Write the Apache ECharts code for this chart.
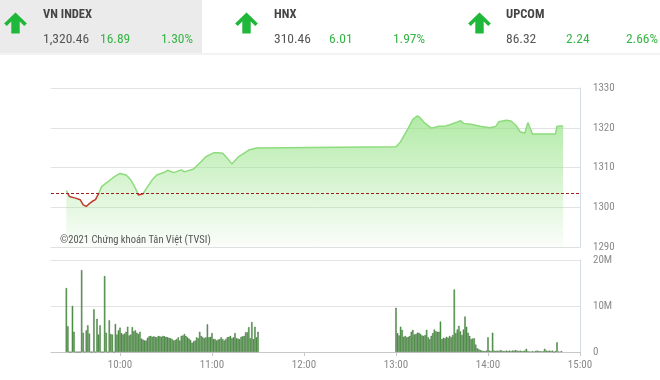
<!DOCTYPE html>
<html>
<head>
<meta charset="utf-8">
<script src="https://cdn.jsdelivr.net/npm/echarts@6/dist/echarts.min.js"></script>
<style>
html,body{margin:0;padding:0;background:#fff;}
#c{width:660px;height:380px;}
</style>
</head>
<body>
<div id="c"></div>
<script>
// ---- header data ----
const indexNames = ['VN INDEX', 'HNX', 'UPCOM'];
const indexValues = ['1,320.46', '310.46', '86.32'];
const indexChanges = ['16.89', '6.01', '2.24'];
const indexPercents = ['1.30%', '1.97%', '2.66%'];

// ---- price series (time, index level) ----
const priceTimes = ['9:25','9:27','9:31','9:34','9:36','9:38','9:40','9:42','9:44','9:46','9:48','9:52','9:55','9:58',
 '10:00','10:04','10:07','10:10','10:12','10:15','10:18','10:21','10:24','10:29','10:31','10:35','10:40','10:42','10:48','10:53','10:56',
 '11:01','11:04','11:07','11:10','11:13','11:17','11:21','11:24','11:29','11:30',
 '13:00','13:01','13:03','13:08','13:11','13:14','13:16','13:19','13:23','13:25','13:28','13:32','13:36','13:39','13:42','13:43','13:44','13:49','13:55',
 '14:01','14:05','14:07','14:12','14:15','14:18','14:21','14:24','14:26','14:27','14:29','14:44','14:45','14:49'];
const priceValues = [1304.2,1302.7,1302.3,1301.9,1300.6,1300.2,1300.9,1301.5,1301.9,1303.4,1305.2,1306.4,1307.3,1308.1,
 1308.5,1308.1,1306.9,1304.8,1303.1,1303.4,1305.2,1306.9,1308.1,1308.8,1309.3,1308.7,1309.4,1308.9,1309.6,1311.5,1312.7,
 1313.7,1313.7,1313.6,1312.3,1310.9,1312.6,1313.6,1314.4,1314.9,1315.0,
 1315.2,1315.3,1316.5,1319.9,1322.1,1323.0,1322.4,1321.1,1319.9,1320.1,1320.4,1320.4,1320.9,1321.3,1321.8,1322.2,1321.1,1320.9,1320.4,
 1320.0,1320.3,1321.5,1321.9,1321.7,1320.7,1319.0,1318.6,1321.3,1321.4,1318.4,1318.4,1320.4,1320.46];
const prevClose = 1303.57;

// ---- volume (millions), one value per minute ----
const morningStart = '9:25';
const morningVolumes = [13.9,5.6,0,0,10.0,4.4,0,0,0,0,17.8,4.2,0,4.7,5.8,4.0,0,0,9.3,0,
 7.2,3.8,5.8,0,0,16.5,4.2,0,6.9,3.9,3.8,0,6.1,3.8,4.7,5.3,4.1,3.8,4.0,4.4,
 5.5,3.6,3.8,5.4,4.5,4.7,4.2,3.9,4.4,2.9,2.7,2.5,2.5,3.1,3.4,3.5,3.3,3.4,3.3,3.2,
 3.5,3.4,3.3,3.5,3.4,3.3,3.2,3.1,3.0,2.8,2.5,2.6,2.8,3.2,2.5,3.5,3.6,3.9,3.5,3.2,
 2.9,2.6,2.0,2.3,2.5,3.2,3.0,4.4,3.5,3.2,3.0,3.2,6.0,3.2,3.3,4.1,2.8,2.8,2.5,2.7,
 2.8,3.2,2.8,2.5,2.8,3.2,3.3,3.5,3.0,3.2,4.1,3.0,2.9,2.8,3.3,3.4,3.5,4.3,4.3,5.4,
 3.0,6.5,2.8,5.5,3.2,4.4];
const afternoonStart = '13:00';
const afternoonVolumes = [9.6,4.1,3.6,5.5,4.8,3.3,3.5,3.2,3.3,3.5,4.4,4.8,3.8,3.9,4.2,4.2,3.9,3.6,3.5,3.7,
 4.8,3.2,2.8,3.5,4.1,4.9,4.5,4.4,4.4,6.6,2.8,3.1,3.0,3.3,3.1,3.5,3.2,3.7,13.6,4.1,
 4.9,5.7,4.5,3.7,4.9,7.7,5.5,4.2,3.5,2.8,2.9,3.0,1.6,0.8,0.6,0.4,0.3,0.2,0.2,0.3,
 3.2,0.3,0.2,4.2,0.3,0.2,0.3,0.2,0.4,0.3,0.2,0.2,0.3,0.2,0.3,0.2,0.3,0.3,0.4,0.3,
 0.2,0.3,0.2,0.2,0.3,0.7,0.2,0.1,0.1,0.2,0.1,0.2,0.3,0.2,0.2,0.1,0.2,0.7,0.3,0.2,
 0.3,0.2,0.3,0,0.2,2.1,0.1,0.1,0.2];

const timeTicks = ['10:00','11:00','12:00','13:00','14:00','15:00'];
const priceTicks = [1290, 1300, 1310, 1320, 1330];
const volumeTicks = [0, 10, 20];

// ---- helpers ----
function toMin(s){ const p = s.split(':'); return (+p[0])*60 + (+p[1]); }
function fmtMin(m){ const h = Math.floor(m/60), mm = m%60; return h+':'+(mm<10?'0':'')+mm; }

const priceData = priceTimes.map((t,i)=>[toMin(t), priceValues[i]]);
const volData = [];
morningVolumes.forEach((v,i)=>volData.push([toMin(morningStart)+i, v]));
afternoonVolumes.forEach((v,i)=>volData.push([toMin(afternoonStart)+i, v]));
const tickMins = timeTicks.map(toMin);

const chart = echarts.init(document.getElementById('c'), null, {renderer:'canvas'});
const cond = "'Roboto Condensed','Liberation Sans Narrow','DejaVu Sans Condensed','Arial Narrow',Roboto,sans-serif";
const GREEN = '#37b447';
const ARROW = '#1fb83b';

function arrow(cx){
  return {
    type:'polygon', silent:true,
    shape:{points:[[cx,12.5],[cx+11.4,23.5],[cx+8.7,26],[cx+4.2,21.5],[cx+4.2,33.5],[cx-4.2,33.5],[cx-4.2,21.5],[cx-8.7,26],[cx-11.4,23.5]]},
    style:{fill:ARROW}
  };
}
const panelX = [43, 274, 506];
const changeX = [100, 329, 566];
const pctRight = [193, 425, 658];
const arrowX = [15.5, 246.5, 479.5];

const graphics = [
  {type:'rect', shape:{x:0,y:0,width:202,height:53}, style:{fill:'#ebebeb'}, silent:true},
  {type:'rect', shape:{x:0,y:53,width:660,height:2}, style:{fill:'#f3f3f3'}, silent:true}
];
indexNames.forEach((n,i)=>{
  graphics.push(arrow(arrowX[i]));
  graphics.push({type:'text', style:{x:panelX[i], y:14.5, text:n, font:"bold 12.5px "+cond, fill:'#444', verticalAlign:'middle'}});
  graphics.push({type:'text', style:{x:panelX[i], y:40, text:indexValues[i], font:"13.5px "+cond, fill:'#555', verticalAlign:'middle'}});
  graphics.push({type:'text', style:{x:changeX[i], y:40, text:indexChanges[i], font:"13.5px "+cond, fill:GREEN, verticalAlign:'middle'}});
  graphics.push({type:'text', style:{x:pctRight[i], y:40, text:indexPercents[i], font:"13.5px "+cond, fill:GREEN, verticalAlign:'middle', align:'right'}});
});
graphics.push({type:'text', z:100, style:{x:60, y:240, text:'©2021 Chứng khoán Tân Việt (TVSI)', font:"10.5px "+cond, fill:'#555', verticalAlign:'middle'}});

const axisLabelStyle = {color:'#8a8a8a', fontSize:11, fontFamily:cond};

chart.setOption({
  animation:false,
  graphic:graphics,
  grid:[
    {left:51, right:80, top:88, height:159},
    {left:51, right:80, top:260, height:92}
  ],
  xAxis:[
    {gridIndex:0, type:'value', min:toMin('9:15'), max:toMin('15:00'),
     axisLabel:{show:false}, axisTick:{show:false}, splitLine:{show:false},
     axisLine:{show:true, lineStyle:{color:'#e0e0e0'}}},
    {gridIndex:1, type:'value', min:toMin('9:15'), max:toMin('15:00'),
     axisLabel:Object.assign({customValues:tickMins, formatter:v=>fmtMin(v), margin:8}, axisLabelStyle),
     axisTick:{show:true, customValues:tickMins, length:4, lineStyle:{color:'#c8c8c8'}},
     splitLine:{show:false},
     axisLine:{show:true, lineStyle:{color:'#c8c8c8'}}}
  ],
  yAxis:[
    {gridIndex:0, type:'value', position:'right', min:priceTicks[0], max:priceTicks[priceTicks.length-1], interval:10,
     axisLabel:Object.assign({margin:13, formatter:v=>String(v)}, axisLabelStyle),
     axisTick:{show:false},
     axisLine:{show:true, lineStyle:{color:'#d3dbe4'}},
     splitLine:{lineStyle:{color:'#e3e3e3'}}},
    {gridIndex:1, type:'value', position:'right', min:volumeTicks[0], max:volumeTicks[volumeTicks.length-1], interval:10,
     axisLabel:Object.assign({margin:13, formatter:v=>v===0?'0':v+'M'}, axisLabelStyle),
     axisTick:{show:false},
     axisLine:{show:true, lineStyle:{color:'#d3dbe4'}},
     splitLine:{lineStyle:{color:'#e3e3e3'}}}
  ],
  visualMap:{
    show:false, type:'piecewise', seriesIndex:0, dimension:1,
    pieces:[{gt:1200, lte:prevClose, color:'#c0392b'},{gt:prevClose, lte:1400, color:'#8ddb7d'}]
  },
  series:[
    {type:'line', xAxisIndex:0, yAxisIndex:0, data:priceData, symbol:'none',
     lineStyle:{width:1.5},
     areaStyle:{origin:'start', color:new echarts.graphic.LinearGradient(0,0,0,1,[
       {offset:0, color:'rgba(145,226,128,1)'},
       {offset:1, color:'rgba(150,226,136,0.07)'}])},
     markLine:{silent:true, symbol:['none','none'], label:{show:false},
       lineStyle:{color:'#a02020', type:[3,2], width:1},
       data:[{yAxis:prevClose}]}
    },
    {type:'bar', xAxisIndex:1, yAxisIndex:1, data:volData, barWidth:1.4,
     itemStyle:{color:'#55a64c', borderColor:'#35602f', borderWidth:0.4}}
  ]
});
</script>
</body>
</html>
